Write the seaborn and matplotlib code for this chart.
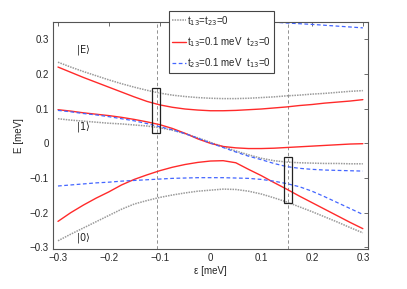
"""
Energy levels vs detuning for three tunnel-coupling settings
"""

import numpy as np
import pandas as pd
import matplotlib
matplotlib.use("Agg")
import matplotlib.pyplot as plt
from matplotlib.patches import Rectangle
from matplotlib.lines import Line2D
import seaborn as sns


# detuning grid (meV)
eps = [-0.3, -0.275, -0.25, -0.225, -0.2, -0.175, -0.15, -0.125, -0.1, -0.075, -0.05, -0.025, 0.0,
       0.025, 0.05, 0.075, 0.1, 0.125, 0.15, 0.175, 0.2, 0.225, 0.25, 0.275, 0.3]

# t13 = t23 = 0 (gray dotted)
dot_top = [0.234, 0.220, 0.207, 0.195, 0.183, 0.172, 0.162, 0.153, 0.145, 0.139, 0.135, 0.132, 0.130,
           0.129, 0.129, 0.130, 0.132, 0.134, 0.137, 0.139, 0.142, 0.144, 0.147, 0.150, 0.152]
dot_mid = [0.071, 0.067, 0.064, 0.061, 0.058, 0.056, 0.053, 0.050, 0.045, 0.038, 0.028, 0.016, 0.003,
           -0.010, -0.022, -0.033, -0.043, -0.050, -0.054, -0.056, -0.057, -0.058, -0.058, -0.059, -0.059]
dot_low = [-0.281, -0.262, -0.244, -0.226, -0.208, -0.190, -0.175, -0.165, -0.156, -0.149, -0.143, -0.138, -0.135,
           -0.132, -0.133, -0.138, -0.146, -0.157, -0.169, -0.183, -0.197, -0.212, -0.227, -0.243, -0.258]

# t13 = 0.1 meV, t23 = 0 (red solid)
red_top = [0.220, 0.205, 0.190, 0.176, 0.162, 0.148, 0.134, 0.121, 0.111, 0.104, 0.099, 0.096, 0.094,
           0.094, 0.095, 0.097, 0.099, 0.102, 0.105, 0.109, 0.112, 0.116, 0.119, 0.122, 0.126]
red_mid = [0.097, 0.093, 0.088, 0.084, 0.080, 0.075, 0.069, 0.062, 0.054, 0.043, 0.029, 0.013, 0.000,
           -0.009, -0.013, -0.015, -0.015, -0.014, -0.012, -0.010, -0.008, -0.006, -0.004, -0.002, -0.001]
red_low = [-0.225, -0.200, -0.178, -0.158, -0.140, -0.120, -0.104, -0.091, -0.079, -0.069, -0.061, -0.055, -0.051,
           -0.050, -0.056, -0.075, -0.093, -0.113, -0.132, -0.152, -0.171, -0.190, -0.209, -0.228, -0.246]

# t23 = 0.1 meV, t13 = 0 (blue dashed)
blue_mid = [0.095, 0.091, 0.086, 0.082, 0.077, 0.071, 0.065, 0.057, 0.048, 0.039, 0.028, 0.015, 0.001,
            -0.012, -0.025, -0.037, -0.047, -0.058, -0.067, -0.072, -0.075, -0.077, -0.078, -0.079, -0.080]
blue_low = [-0.123, -0.120, -0.117, -0.114, -0.112, -0.109, -0.107, -0.105, -0.103, -0.101, -0.100, -0.099, -0.099,
            -0.099, -0.100, -0.101, -0.104, -0.109, -0.116, -0.125, -0.138, -0.154, -0.171, -0.188, -0.205]
eps_top = [0.05, 0.1, 0.15, 0.2, 0.25, 0.3]
blue_top = [0.358, 0.352, 0.347, 0.343, 0.338, 0.333]

legend_labels = ['t$_{13}$=t$_{23}$=0',
                 't$_{13}$=0.1 meV  t$_{23}$=0',
                 't$_{23}$=0.1 meV  t$_{13}$=0']

# markers for the two cuts
vline_x = [-0.105, 0.152]
box_x = [(-0.115, -0.099), (0.145, 0.160)]
box_y = [(0.030, 0.160), (-0.172, -0.039)]

state_labels = [r'$|\mathrm{E}\rangle$', r'$|1\rangle$', r'$|0\rangle$']
state_x = [-0.265, -0.265, -0.265]
state_y = [0.268, 0.046, -0.272]

xticks = [-0.3, -0.2, -0.1, 0, 0.1, 0.2, 0.3]
xtick_labels = ['\u22120.3', '\u22120.2', '\u22120.1', '0', '0.1', '0.2', '0.3']
yticks = [-0.3, -0.2, -0.1, 0, 0.1, 0.2, 0.3]
ytick_labels = ['\u22120.3', '\u22120.2', '\u22120.1', '0', '0.1', '0.2', '0.3']


sns.set_style("white")
plt.rcParams['font.family'] = ['Liberation Sans', 'DejaVu Sans']
plt.rcParams['font.size'] = 7

fig = plt.figure(figsize=(4.07, 2.89), dpi=100)
ax = fig.add_axes([0.130, 0.138, 0.774, 0.786])

gray_style = dict(color='#9a9a9a', linewidth=1.1, linestyle=(0, (1, 0.7)))
red_style = dict(color='#ff2a2a', linewidth=1.0, linestyle='-')
blue_style = dict(color='#4466ff', linewidth=0.9, linestyle=(0, (3, 2)))

# vertical cut lines
for xv in vline_x:
    ax.axvline(xv, color='#808080', linewidth=0.6, linestyle=(0, (4, 3)), zorder=1)

for yv in [dot_top, dot_mid, dot_low]:
    sns.lineplot(x=eps, y=yv, ax=ax, sort=False, estimator=None, **gray_style)
for yv in [red_top, red_mid, red_low]:
    sns.lineplot(x=eps, y=yv, ax=ax, sort=False, estimator=None, **red_style)
for yv in [blue_mid, blue_low]:
    sns.lineplot(x=eps, y=yv, ax=ax, sort=False, estimator=None, **blue_style)
sns.lineplot(x=eps_top, y=blue_top, ax=ax, sort=False, estimator=None, **blue_style)

# boxes around the cuts
for (x0, x1), (y0, y1) in zip(box_x, box_y):
    ax.add_patch(Rectangle((x0, y0), x1 - x0, y1 - y0, fill=False,
                           edgecolor='#222222', linewidth=0.9, zorder=4))

for txt, xs, ys in zip(state_labels, state_x, state_y):
    ax.text(xs, ys, txt, fontsize=7, ha='left', va='center', color='#222222')

ax.set_xlim(-0.31, 0.31)
ax.set_ylim(-0.305, 0.35)
ax.set_xticks(xticks)
ax.set_xticklabels(xtick_labels)
ax.set_yticks(yticks)
ax.set_yticklabels(ytick_labels)
ax.tick_params(direction='in', length=3, width=0.6, color='#555555',
               top=True, right=True, labelsize=7, pad=3)
for sp in ax.spines.values():
    sp.set_color('#555555')
    sp.set_linewidth(0.8)

ax.set_xlabel('\u03b5 [meV]', fontsize=7, labelpad=2)
ax.set_ylabel('E [meV]', fontsize=7, labelpad=4)

handles = [Line2D([], [], **gray_style), Line2D([], [], **red_style), Line2D([], [], **blue_style)]
leg = fig.legend(handles, legend_labels, loc='upper left', bbox_to_anchor=(0.415, 0.962),
                 fontsize=7, frameon=True, fancybox=False, framealpha=1, edgecolor='#444444',
                 handlelength=1.5, handletextpad=0.1, borderpad=0.3, labelspacing=0.75,
                 borderaxespad=0)
leg.get_frame().set_linewidth(0.8)

fig.savefig('out.png', dpi=100)
plt.close()
